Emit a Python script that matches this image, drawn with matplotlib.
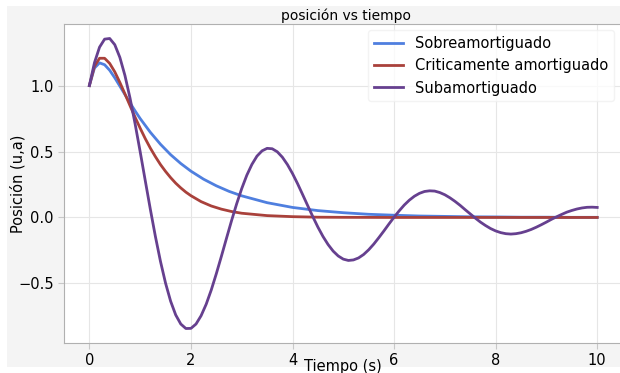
import matplotlib
matplotlib.use("Agg")
import matplotlib.pyplot as plt
from matplotlib.patches import Rectangle

# %%
# Datos: posición frente al tiempo para los tres regímenes de amortiguamiento

t_sub = [round(0.1 * i, 1) for i in range(101)]
x_sub = [
    1.000, 1.173, 1.291, 1.352, 1.357, 1.310, 1.214, 1.077, 0.906, 0.711,
    0.499, 0.280, 0.063, -0.144, -0.333, -0.498, -0.635, -0.739, -0.808, -0.842,
    -0.841, -0.808, -0.745, -0.658, -0.550, -0.426, -0.294, -0.158, -0.024, 0.103,
    0.219, 0.320, 0.402, 0.465, 0.505, 0.524, 0.521, 0.498, 0.457, 0.401,
    0.333, 0.256, 0.173, 0.089, 0.006, -0.073, -0.144, -0.205, -0.255, -0.292,
    -0.316, -0.326, -0.322, -0.307, -0.281, -0.245, -0.202, -0.153, -0.102, -0.049,
    0.002, 0.050, 0.094, 0.131, 0.161, 0.183, 0.197, 0.202, 0.200, 0.189,
    0.172, 0.149, 0.122, 0.092, 0.059, 0.027, -0.005, -0.035, -0.061, -0.084,
    -0.102, -0.115, -0.123, -0.126, -0.123, -0.116, -0.105, -0.091, -0.074, -0.055,
    -0.035, -0.014, 0.005, 0.023, 0.040, 0.053, 0.064, 0.072, 0.077, 0.078,
    0.076,
]

t_crit = [0.0, 0.1, 0.2, 0.3, 0.4, 0.5, 0.6, 0.7, 0.8, 0.9, 1.0, 1.1, 1.2,
          1.3, 1.4, 1.5, 1.6, 1.7, 1.8, 1.9, 2.0, 2.2, 2.4, 2.6, 2.8, 3.0,
          3.5, 4.0, 4.5, 5.0, 6.0, 7.0, 8.0, 9.0, 10.0]
x_crit = [1.000, 1.146, 1.207, 1.207, 1.168, 1.104, 1.024, 0.937, 0.848,
          0.760, 0.677, 0.598, 0.526, 0.461, 0.401, 0.349, 0.302, 0.260,
          0.224, 0.192, 0.165, 0.120, 0.087, 0.063, 0.045, 0.032, 0.014,
          0.006, 0.002, 0.001, 0.000, 0.000, 0.000, 0.000, 0.000]

t_sobre = [0.0, 0.1, 0.2, 0.3, 0.4, 0.5, 0.6, 0.7, 0.8, 0.9, 1.0, 1.2, 1.4,
           1.6, 1.8, 2.0, 2.25, 2.5, 2.75, 3.0, 3.5, 4.0, 4.5, 5.0, 5.5,
           6.0, 6.5, 7.0, 7.5, 8.0, 8.5, 9.0, 9.5, 10.0]
x_sobre = [1.000, 1.133, 1.172, 1.158, 1.116, 1.059, 0.996, 0.932, 0.869,
           0.808, 0.750, 0.646, 0.555, 0.476, 0.409, 0.351, 0.290, 0.240,
           0.198, 0.164, 0.112, 0.076, 0.052, 0.036, 0.024, 0.017, 0.011,
           0.008, 0.005, 0.004, 0.002, 0.002, 0.001, 0.001]

# %%
# Figura

fig = plt.figure(figsize=(6.2, 3.73), dpi=100, facecolor="white")
fig.patches.append(
    Rectangle((7 / 620, 6 / 373), 1, 1 - 12 / 373, transform=fig.transFigure,
              facecolor="#f4f4f4", edgecolor="none", zorder=-10)
)
ax = fig.add_axes([0.1032, 0.0804, 0.91, 0.8553])
ax.set_facecolor("white")

ax.plot(t_sobre, x_sobre, color="#4f7fdf", lw=2, label="Sobreamortiguado")
ax.plot(t_crit, x_crit, color="#a9413b", lw=2, label="Criticamente amortiguado")
ax.plot(t_sub, x_sub, color="#66408f", lw=2, label="Subamortiguado")

ax.set_xlim(-0.5, 10.61)
ax.set_xticks([0, 2, 4, 6, 8, 10])
ax.grid(True, color="#e6e6e6", lw=0.8)
for s in ax.spines.values():
    s.set_color("#b0b0b0")
ax.spines["right"].set_visible(False)
ax.tick_params(colors="#c8c8c8", labelcolor="black", labelsize=10.5, length=4)

ax.set_title("posición vs tiempo", fontsize=10, pad=3)
ax.set_xlabel("Tiempo (s)", fontsize=10.5)
ax.xaxis.set_label_coords(0.5 - 0.006, -0.05)
ax.set_ylabel("Posición (u,a)", fontsize=10.5)
ax.yaxis.set_label_coords(-0.069, 0.5)

leg = ax.legend(loc="upper right", fontsize=10.5, frameon=True,
                bbox_to_anchor=(0.98, 0.99), borderaxespad=0.2)
leg.get_frame().set_edgecolor("#f0f0f0")

fig.savefig("out.png", dpi=100, facecolor=fig.get_facecolor())
